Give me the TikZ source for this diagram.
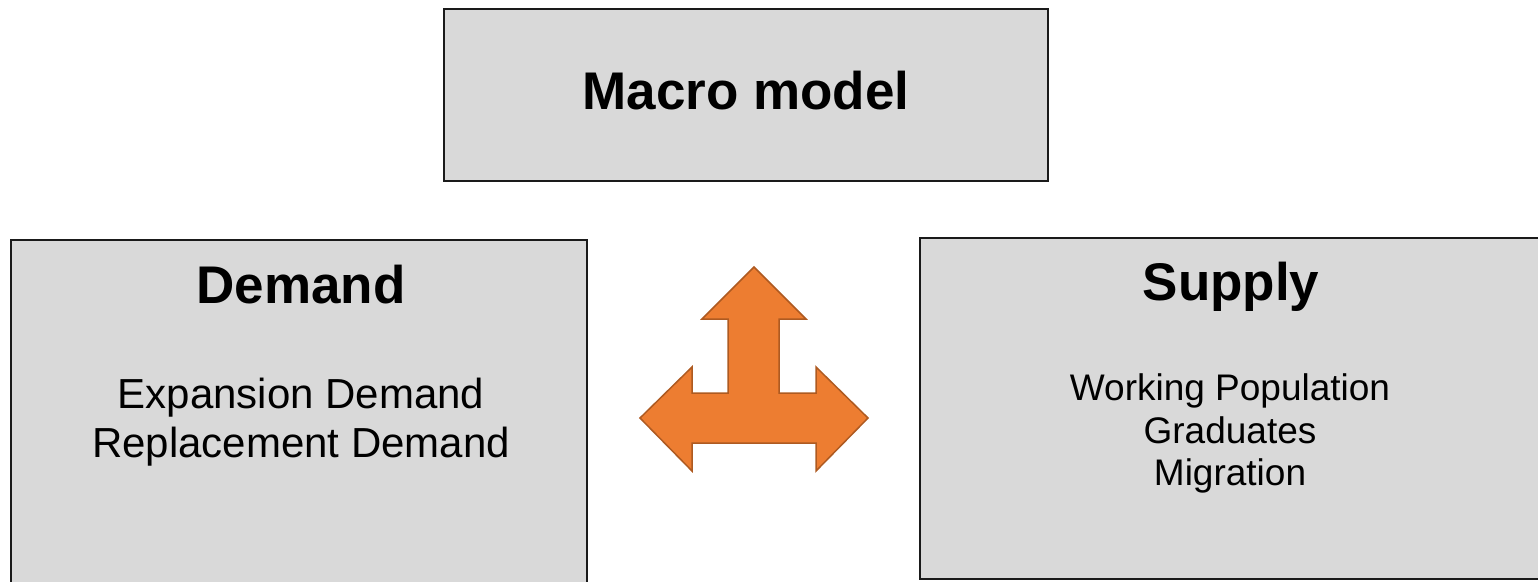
\documentclass[tikz,border=0pt]{standalone}
\usepackage{fontspec}
\setmainfont{Liberation Sans}
\definecolor{boxfill}{HTML}{D9D9D9}
\definecolor{boxline}{HTML}{1A1A1A}
\definecolor{arrowfill}{HTML}{ED7D31}
\definecolor{arrowline}{HTML}{AE5A21}
\tikzset{
  panel/.style={draw=boxline, fill=boxfill, line width=2pt, inner sep=0pt},
  titletext/.style={anchor=base, inner sep=0pt, font=\fontsize{53}{60}\selectfont\bfseries},
  demandtext/.style={anchor=base, inner sep=0pt, font=\fontsize{42}{49}\selectfont},
  supplytext/.style={anchor=base, inner sep=0pt, font=\fontsize{37}{43}\selectfont},
  bigarrow/.style={fill=arrowfill, draw=arrowline, line width=1.5pt, line join=miter}
}
\begin{document}
\begin{tikzpicture}[x=1pt,y=-1pt]
\useasboundingbox (0,0) rectangle (1538,581);
\clip (0,0) rectangle (1538,581);
% boxes
\node[panel, minimum width=604pt, minimum height=172pt] (macro) at (746,95) {};
\node[panel, minimum width=576pt, minimum height=360pt] (demand) at (299,420) {};
\node[panel, minimum width=625pt, minimum height=341pt] (supply) at (1232.5,408.5) {};
% texts
\node[titletext] (macrot) at (746,109) {Macro model};
\node[titletext] (demandt) at (301,303) {Demand};
\node[titletext] (supplyt) at (1231,300) {Supply};
\node[demandtext] (demandb1) at (301,408) {Expansion Demand};
\node[demandtext] (demandb2) at (301,457) {Replacement Demand};
\node[supplytext] (supplyb1) at (1230,400) {Working Population};
\node[supplytext] (supplyb2) at (1230,443) {Graduates};
\node[supplytext] (supplyb3) at (1230,485) {Migration};
% three-way arrow
\draw[bigarrow] (754,267) -- (806,319) -- (779,319) -- (779,393) -- (816,393) -- (816,367)
  -- (868,418) -- (816,471) -- (816,443) -- (692,443) -- (692,471) -- (640,418)
  -- (692,367) -- (692,393) -- (728,393) -- (728,319) -- (702,319) -- cycle;
\end{tikzpicture}
\end{document}
